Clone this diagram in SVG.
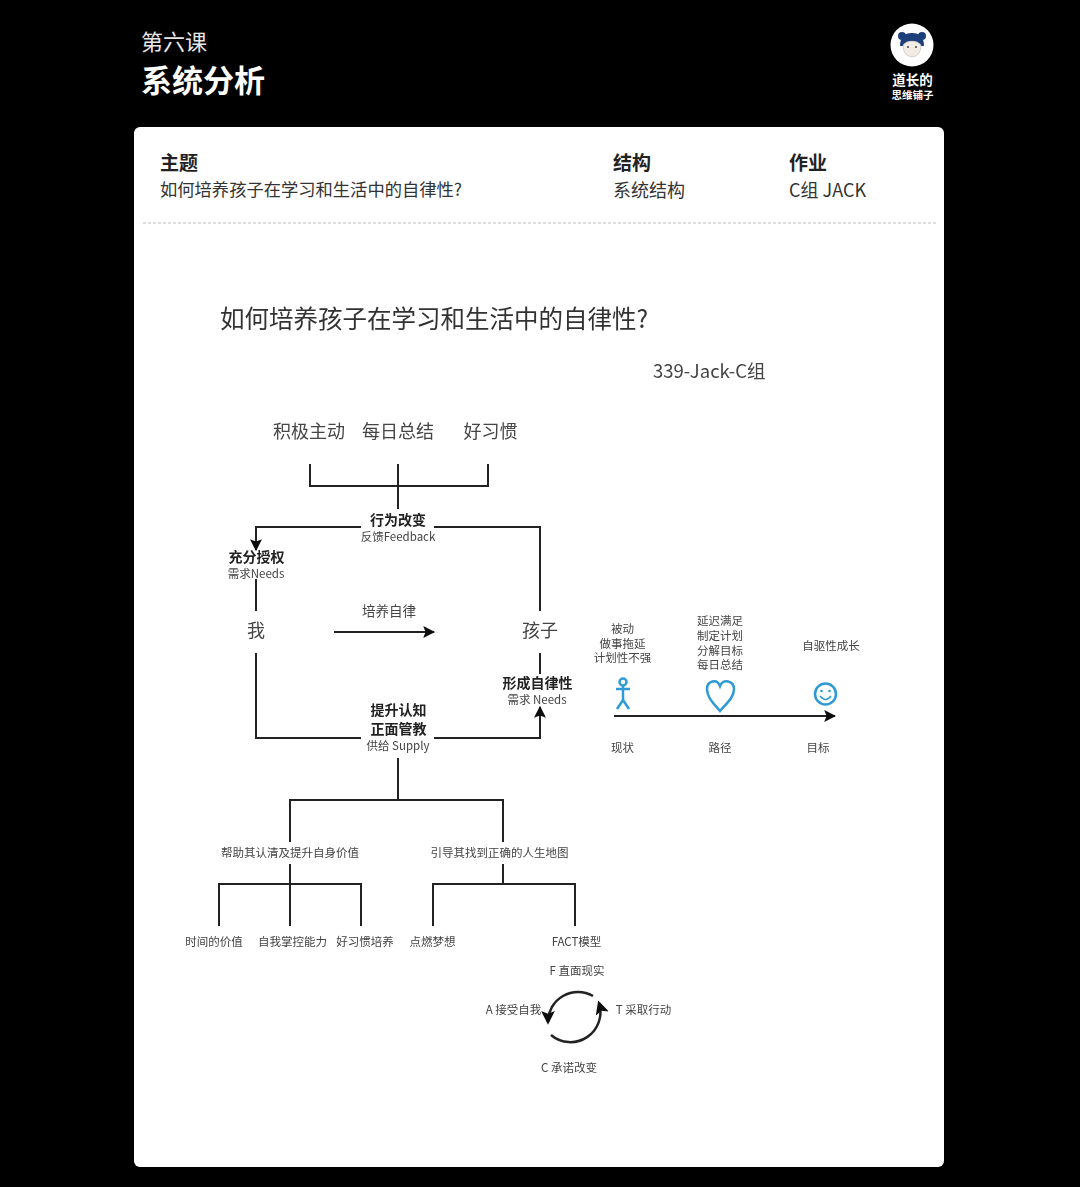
<svg xmlns="http://www.w3.org/2000/svg" width="1080" height="1187" viewBox="0 0 1080 1187">
<style>
text{font-family:"Noto Sans CJK SC","Liberation Sans",sans-serif;fill:#222}
.h{fill:#fff}
.m{text-anchor:middle}
.s{font-size:11.5px;fill:#444}
.b{font-size:14px;font-weight:700;fill:#222}
.g{font-size:18px;fill:#444}
.l{fill:none;stroke:#222;stroke-width:2}
.bl{fill:none;stroke:#2e9bd6;stroke-width:2.5}
</style>
<defs>
<marker id="a" viewBox="0 0 10 10" refX="9" refY="5" markerWidth="6" markerHeight="6" orient="auto"><path d="M0 0L10 5L0 10L2 5Z" fill="#111"/></marker>
<marker id="a2" viewBox="0 0 10 10" refX="8" refY="5" markerWidth="5.5" markerHeight="5.5" orient="auto"><path d="M0 0L10 5L0 10L2 5Z" fill="#111"/></marker>
<filter id="soft" x="-5%" y="-5%" width="110%" height="110%"><feGaussianBlur stdDeviation="0.45"/></filter>
</defs>
<rect width="1080" height="1187" fill="#000"/>
<g id="header">
<text class="h" x="141" y="50" font-size="22" style="fill:#e8e8e8">第六课</text>
<text class="h" x="141" y="92" font-size="31" font-weight="700">系统分析</text>
</g>
<g id="logo">
<circle cx="912" cy="45" r="21.5" fill="#fff"/>
<circle cx="902" cy="36" r="4" fill="#1d3f7a"/><circle cx="922" cy="36" r="4" fill="#1d3f7a"/>
<path d="M900 46Q900 33 912 33Q924 33 924 46L921 46Q918 41 912 41Q906 41 903 46Z" fill="#1d3f7a"/>
<path d="M903 45Q906 41 912 41Q918 41 921 45Q921 56 912 57Q903 56 903 45Z" fill="#f3ece6" stroke="#999" stroke-width=".4"/>
<circle cx="908" cy="47" r="1" fill="#444"/><circle cx="916" cy="47" r="1" fill="#444"/>
<text class="h m" x="912.500" y="85" font-size="13.500" font-weight="700">道长的</text>
<text class="h m" x="912.500" y="99" font-size="10.500" font-weight="700">思维铺子</text>
</g>
<rect id="card" x="134" y="127" width="810" height="1040" rx="6" fill="#fff"/>
<g id="info">
<text x="160" y="170" font-size="19" font-weight="700">主题</text>
<text x="160" y="196" font-size="17.300" style="fill:#333">如何培养孩子在学习和生活中的自律性?</text>
<text x="613" y="170" font-size="19" font-weight="700">结构</text>
<text x="613" y="197" font-size="18" style="fill:#333">系统结构</text>
<text x="789" y="170" font-size="19" font-weight="700">作业</text>
<text x="789" y="197" font-size="18" style="fill:#333">C组 JACK</text>
<line x1="143" y1="223" x2="936" y2="223" stroke="#bbb" stroke-dasharray="3 2"/>
</g>
<g filter="url(#soft)">
<g id="title">
<text x="220" y="328" font-size="24.500" style="fill:#333">如何培养孩子在学习和生活中的自律性?</text>
<text x="653" y="378" font-size="18.500" style="fill:#444">339-Jack-C组</text>
</g>
<g id="connectors">
<path class="l" d="M310 464V486H488V464M398 464V509"/>
<path class="l" d="M361 527H256V550" marker-end="url(#a)"/>
<path class="l" d="M434 527H540V611"/>
<path class="l" d="M256 579V611"/>
<path class="l" d="M334 632H434" marker-end="url(#a)"/>
<path class="l" d="M256 653V738H361"/>
<path class="l" d="M434 738H540V707" marker-end="url(#a)"/>
<path class="l" d="M540 653V674"/>
<path class="l" d="M398 758V800M290 842V800H503V842"/>
<path class="l" d="M290 864V926M219 926V884H361V926"/>
<path class="l" d="M503 864V884M433 926V884H575V926"/>
<path class="l" d="M614 716H835" marker-end="url(#a)"/>
<path class="l" style="stroke-width:2.500" d="M593 996A30 30 0 0 0 548 1022" marker-end="url(#a2)"/>
<path class="l" style="stroke-width:2.500" d="M551 1035A30 30 0 0 0 599 1003" marker-end="url(#a2)"/>
</g>
<g id="n1"><text class="g m" x="309" y="438">积极主动</text></g>
<g id="n2"><text class="g m" x="398" y="438">每日总结</text></g>
<g id="n3"><text class="g m" x="490.500" y="438">好习惯</text></g>
<g id="n4"><text class="b m" x="398" y="525">行为改变</text><text class="s m" x="398" y="541">反馈Feedback</text></g>
<g id="n5"><text class="b m" x="256.500" y="562">充分授权</text><text class="s m" x="256" y="578">需求Needs</text></g>
<g id="n6"><text class="g m" x="256" y="637">我</text></g>
<g id="n7"><text class="g m" x="540" y="637">孩子</text></g>
<g id="n8"><text class="s m" x="389" y="616" style="font-size:13.500px">培养自律</text></g>
<g id="n9"><text class="b m" x="537.500" y="688">形成自律性</text><text class="s m" x="537" y="704">需求 Needs</text></g>
<g id="n10"><text class="b m" x="398.500" y="715">提升认知</text><text class="b m" x="398.500" y="734">正面管教</text><text class="s m" x="398" y="750">供给 Supply</text></g>
<g id="n11"><text class="s m" x="290" y="857">帮助其认清及提升自身价值</text></g>
<g id="n12"><text class="s m" x="499.500" y="857">引导其找到正确的人生地图</text></g>
<g id="n13"><text class="s m" x="214" y="946">时间的价值</text></g>
<g id="n14"><text class="s m" x="292.500" y="946">自我掌控能力</text></g>
<g id="n15"><text class="s m" x="365" y="946">好习惯培养</text></g>
<g id="n16"><text class="s m" x="432.500" y="946">点燃梦想</text></g>
<g id="n17"><text class="s m" x="576.500" y="946">FACT模型</text></g>
<g id="n18"><text class="s m" x="577" y="975">F 直面现实</text></g>
<g id="n19"><text class="s m" x="513.500" y="1014">A 接受自我</text></g>
<g id="n20"><text class="s m" x="643.500" y="1014">T 采取行动</text></g>
<g id="n21"><text class="s m" x="569" y="1072">C 承诺改变</text></g>
<g id="n22"><text class="s m" x="622.500" y="633">被动</text><text class="s m" x="622.500" y="647.500">做事拖延</text><text class="s m" x="622.500" y="662">计划性不强</text></g>
<g id="n23"><text class="s m" x="720" y="625">延迟满足</text><text class="s m" x="720" y="640">制定计划</text><text class="s m" x="720" y="654.500">分解目标</text><text class="s m" x="720" y="669">每日总结</text></g>
<g id="n24"><text class="s m" x="831" y="649.500">自驱性成长</text></g>
<g id="n25"><text class="s m" x="622.500" y="752">现状</text></g>
<g id="n26"><text class="s m" x="720" y="752">路径</text></g>
<g id="n27"><text class="s m" x="818" y="752">目标</text></g>
<g id="actor"><circle class="bl" cx="623" cy="682" r="3.500"/><path class="bl" d="M623 686V700M616 689H630M617 709L623 700L629 709"/></g>
<g id="heart"><path class="bl" d="M720 711C712 702 707 697 707 689C707 681 717 678 720 686C723 678 734 681 734 689C734 697 728 702 720 711Z"/></g>
<g id="smile"><circle class="bl" cx="825.500" cy="694" r="10.500"/><circle cx="821.500" cy="691" r="1.300" fill="#2e9bd6"/><circle cx="829.500" cy="691" r="1.300" fill="#2e9bd6"/><path class="bl" style="stroke-width:1.500" d="M820 696Q825.500 703 831 696"/></g>
</g>
</svg>
